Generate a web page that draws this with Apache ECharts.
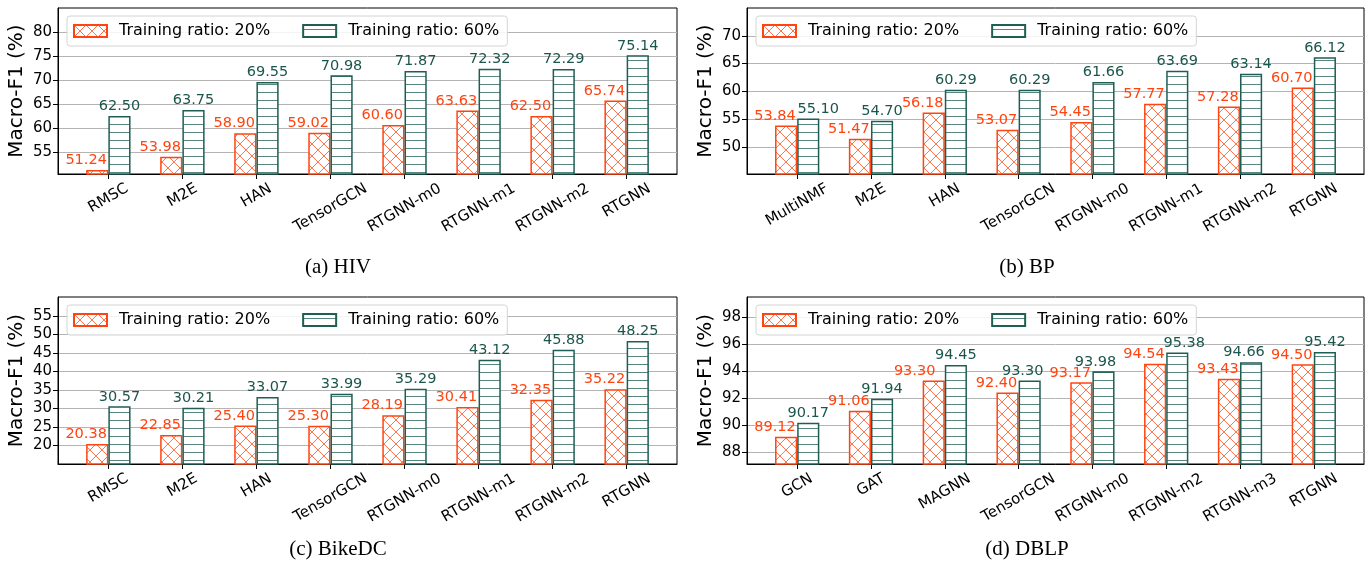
<!DOCTYPE html>
<html><head><meta charset="utf-8">
<script src="https://cdn.jsdelivr.net/npm/echarts@6/dist/echarts.min.js"></script>
<style>html,body{margin:0;padding:0;background:#fff}#c{width:1372px;height:567px}</style>
</head><body><div id="c"></div>
<script>
// ---------------- data ----------------
const ratioNames = ['Training ratio: 20%', 'Training ratio: 60%'];

const hivCategories = ['RMSC', 'M2E', 'HAN', 'TensorGCN', 'RTGNN-m0', 'RTGNN-m1', 'RTGNN-m2', 'RTGNN'];
const hivRatio20 = [51.24, 53.98, 58.90, 59.02, 60.60, 63.63, 62.50, 65.74];
const hivRatio60 = [62.50, 63.75, 69.55, 70.98, 71.87, 72.32, 72.29, 75.14];
const hivYTicks = [55, 60, 65, 70, 75, 80];

const bpCategories = ['MultiNMF', 'M2E', 'HAN', 'TensorGCN', 'RTGNN-m0', 'RTGNN-m1', 'RTGNN-m2', 'RTGNN'];
const bpRatio20 = [53.84, 51.47, 56.18, 53.07, 54.45, 57.77, 57.28, 60.70];
const bpRatio60 = [55.10, 54.70, 60.29, 60.29, 61.66, 63.69, 63.14, 66.12];
const bpYTicks = [50, 55, 60, 65, 70];

const bikeCategories = ['RMSC', 'M2E', 'HAN', 'TensorGCN', 'RTGNN-m0', 'RTGNN-m1', 'RTGNN-m2', 'RTGNN'];
const bikeRatio20 = [20.38, 22.85, 25.40, 25.30, 28.19, 30.41, 32.35, 35.22];
const bikeRatio60 = [30.57, 30.21, 33.07, 33.99, 35.29, 43.12, 45.88, 48.25];
const bikeYTicks = [20, 25, 30, 35, 40, 45, 50, 55];

const dblpCategories = ['GCN', 'GAT', 'MAGNN', 'TensorGCN', 'RTGNN-m0', 'RTGNN-m2', 'RTGNN-m3', 'RTGNN'];
const dblpRatio20 = [89.12, 91.06, 93.30, 92.40, 93.17, 94.54, 93.43, 94.50];
const dblpRatio60 = [90.17, 91.94, 94.45, 93.30, 93.98, 95.38, 94.66, 95.42];
const dblpYTicks = [88, 90, 92, 94, 96, 98];

const captions = ['(a) HIV', '(b) BP', '(c) BikeDC', '(d) DBLP'];
const yLimits = [[50.4, 85], [45.1, 75], [15, 60.1], [87.1, 99.5]];
const yAxisTitle = 'Macro-F1 (%)';

// ---------------- layout / style ----------------
const panels = [
  { cats: hivCategories, r20: hivRatio20, r60: hivRatio60, ticks: hivYTicks },
  { cats: bpCategories, r20: bpRatio20, r60: bpRatio60, ticks: bpYTicks },
  { cats: bikeCategories, r20: bikeRatio20, r60: bikeRatio60, ticks: bikeYTicks },
  { cats: dblpCategories, r20: dblpRatio20, r60: dblpRatio60, ticks: dblpYTicks }
];
const boxes = [
  { left: 58, top: 8, width: 619, height: 166 },
  { left: 747, top: 8, width: 617, height: 166 },
  { left: 58, top: 297, width: 619, height: 167 },
  { left: 747, top: 297, width: 617, height: 167 }
];
// extra horizontal nudges (px) of individual value labels, as in the original figure
const labelNudge20 = [[0,0,0,0,0,0,0,0], [0,0,0,0,0,0,0,0], [0,0,0,0,0,0,0,0], [0,0,-8,0,0,0,0,0]];
const labelNudge60 = [[0,0,0,0,0,0,0,0], [10,0,0,0,0,0,0,0], [0,0,0,0,0,0,0,0], [0,0,0,-7,-8,7,-7,0]];
const captionPos = [[338, 267], [1027, 267], [338, 549], [1027, 549]];
const RED = '#FF4411', GREEN = '#1F5E54', GREEN_TXT = '#1B564C';
const FONT = 'DejaVu Sans';
const X_PAD = 0.68, BAR_W = 0.3;

function crossHatch(color) {
  const s = 12, c = document.createElement('canvas');
  c.width = s; c.height = s;
  const g = c.getContext('2d');
  g.fillStyle = '#fff'; g.fillRect(0, 0, s, s);
  g.strokeStyle = color; g.globalAlpha = 0.75; g.lineWidth = 1;
  g.beginPath();
  g.moveTo(0, 0); g.lineTo(s, s);
  g.moveTo(s, 0); g.lineTo(0, s);
  g.stroke();
  return { image: c, repeat: 'repeat' };
}
function horizHatch(color) {
  const s = 8, c = document.createElement('canvas');
  c.width = s; c.height = s;
  const g = c.getContext('2d');
  g.fillStyle = '#fff'; g.fillRect(0, 0, s, s);
  g.fillStyle = color; g.globalAlpha = 0.75;
  g.fillRect(0, 4, s, 1);
  return { image: c, repeat: 'repeat' };
}
const redFill = crossHatch(RED);
const greenFill = horizHatch(GREEN);

const mctx = document.createElement('canvas').getContext('2d');
mctx.font = '15px "' + FONT + '"';
const LABEL_H = 15;

const grids = [], xAxes = [], yAxes = [], series = [], legends = [], graphics = [];
panels.forEach((p, k) => {
  const b = boxes[k];
  const n = p.cats.length;
  const xmin = -X_PAD, xmax = n - 1 + X_PAD;
  const pxPerUnit = b.width / (xmax - xmin);
  const idx = p.cats.map((_, i) => i);
  // place rotated labels so that their bounding box is centred on the tick
  const labelVals = p.cats.map((c, i) => {
    const w = mctx.measureText(c).width;
    return i + ((0.866 * w - 0.5 * LABEL_H) / 2) / pxPerUnit;
  });
  grids.push({ left: b.left, top: b.top, width: b.width, height: b.height, show: true,
    borderColor: '#000', borderWidth: 1, backgroundColor: 'transparent' });
  xAxes.push({
    type: 'value', gridIndex: k, min: xmin, max: xmax,
    axisLine: { show: true, onZero: false, lineStyle: { color: '#000', width: 1 } },
    axisTick: { show: true, customValues: idx, length: 5, lineStyle: { color: '#000' } },
    splitLine: { show: false },
    axisLabel: {
      customValues: labelVals, rotate: 30, align: 'right', verticalAlign: 'top', margin: 7,
      fontSize: 15, color: '#000', fontFamily: FONT,
      formatter: v => {
        let best = 0, bd = Infinity;
        labelVals.forEach((lv, i) => { const d = Math.abs(lv - v); if (d < bd) { bd = d; best = i; } });
        return p.cats[best];
      }
    }
  });
  yAxes.push({
    type: 'value', gridIndex: k, min: yLimits[k][0], max: yLimits[k][1],
    name: yAxisTitle, nameLocation: 'middle', nameGap: 31,
    nameTextStyle: { fontSize: 20, color: '#000', fontFamily: FONT },
    axisLine: { show: true, onZero: false, lineStyle: { color: '#000', width: 1 } },
    axisTick: { show: true, customValues: p.ticks, length: 5, lineStyle: { color: '#000' } },
    axisLabel: { customValues: p.ticks, fontSize: 15, color: '#000', margin: 6, fontFamily: FONT },
    splitLine: { show: true, lineStyle: { color: '#b4b4b4', width: 1 } }
  });
  const halfBar = BAR_W / 2 * pxPerUnit;
  [[p.r20, redFill, RED, RED, -halfBar, labelNudge20[k]],
   [p.r60, greenFill, GREEN, GREEN_TXT, 0, labelNudge60[k]]].forEach((s, j) => {
    series.push({
      type: 'bar', name: ratioNames[j], xAxisIndex: k, yAxisIndex: k,
      barWidth: (BAR_W * 100) + '%', barGap: '0%',
      data: s[0].map((v, i) => ({ value: [i, v], label: { offset: [s[4] + s[5][i], 0] } })),
      itemStyle: { color: s[1], borderColor: s[2], borderWidth: 1.5 },
      label: { show: true, position: 'top', distance: 2, fontSize: 14.5, color: s[3], fontFamily: FONT,
        formatter: q => q.value[1].toFixed(2) },
      emphasis: { disabled: true },
      animation: false
    });
  });
  legends.push({
    left: b.left + 9, top: b.top + 8, orient: 'horizontal',
    data: ratioNames, itemWidth: 33, itemHeight: 12, itemGap: 32,
    padding: [7, 8, 7, 6], borderColor: '#d4d4d4', borderWidth: 1, borderRadius: 3,
    backgroundColor: 'rgba(255,255,255,0.85)',
    textStyle: { fontSize: 16, color: '#000', fontFamily: FONT, padding: [0, 0, 0, 7] },
    icon: 'rect', selectedMode: false
  });
  graphics.push({
    type: 'text', x: captionPos[k][0], y: captionPos[k][1],
    style: { text: captions[k], fill: '#000', font: '21px "Liberation Serif"', align: 'center', verticalAlign: 'middle' }
  });
});

const chart = echarts.init(document.getElementById('c'), null, { renderer: 'canvas' });
chart.setOption({
  animation: false,
  textStyle: { fontFamily: FONT },
  grid: grids, xAxis: xAxes, yAxis: yAxes, series: series, legend: legends,
  graphic: graphics
});
</script></body></html>
